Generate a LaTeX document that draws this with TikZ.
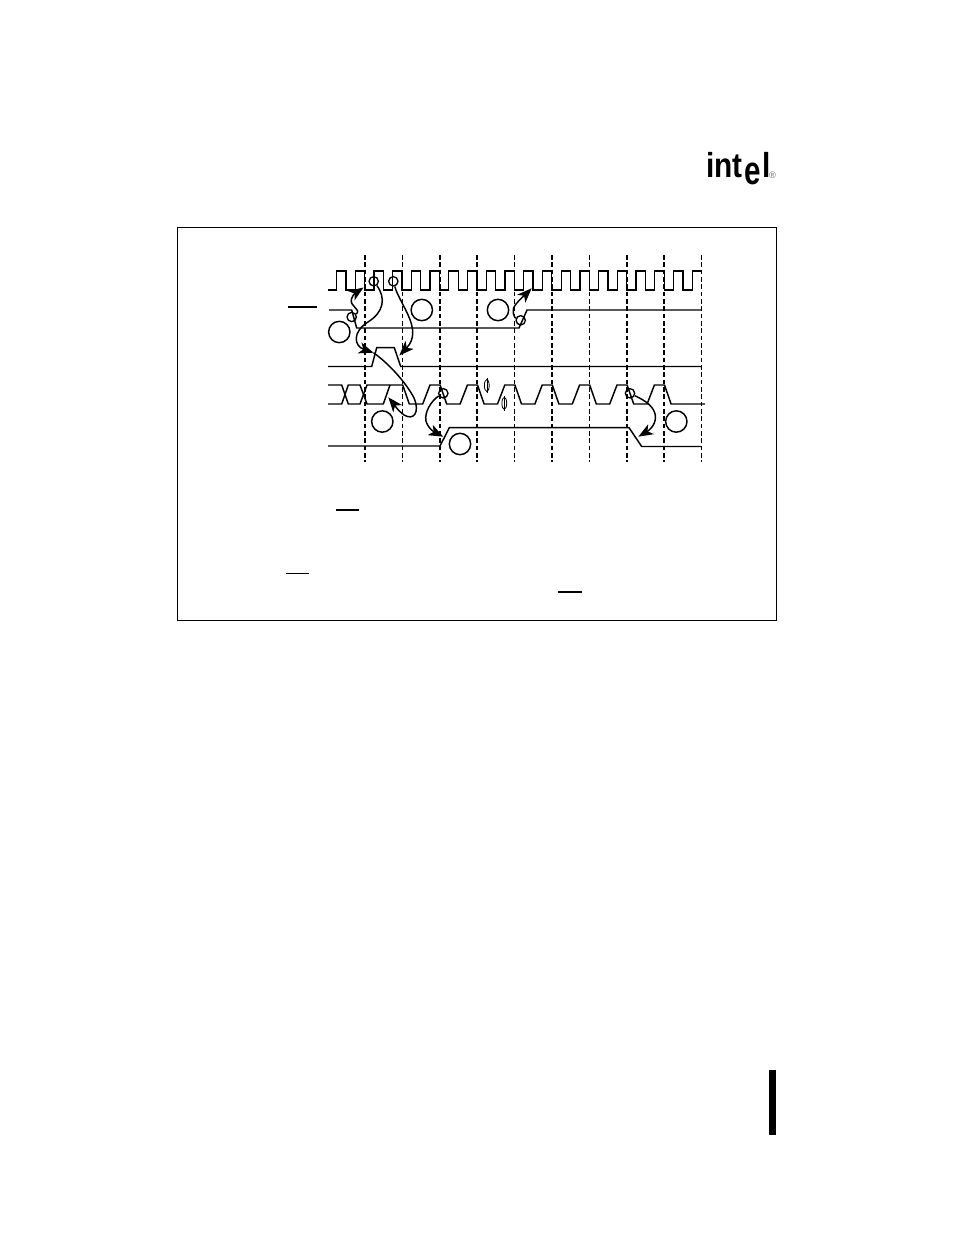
\documentclass[tikz,border=0pt]{standalone}
\usepackage{fontspec}
\setmainfont{Liberation Sans}
\usepackage{tikz}
\usetikzlibrary{positioning,arrows.meta,calc,shapes.geometric}
\definecolor{regGray}{RGB}{110,110,110}
\tikzset{
  sigline/.style={line width=1.1pt, line join=miter},
  clockline/.style={line width=0.95pt, line join=miter},
  thickdash/.style={line width=1.8pt, dash pattern=on 3.6pt off 1.9pt},
  thindash/.style={line width=0.8pt, dash pattern=on 3.6pt off 1.9pt},
  bigring/.style={circle, draw, line width=1.1pt, minimum size=16pt, inner sep=0pt},
  smallring/.style={circle, draw, line width=1pt, minimum size=7pt, inner sep=0pt},
  timearrow/.style={line width=1.1pt, -{Stealth[length=11pt,width=8.5pt,inset=3pt]}},
  overbar/.style={line width=0.9pt},
  philip/.style={ellipse, draw, line width=0.6pt, minimum width=3.6pt, minimum height=9pt, inner sep=0pt},
  logotext/.style={font=\fontsize{26}{26}\selectfont\bfseries, inner sep=0pt, anchor=base west}
}
\begin{document}
\begin{tikzpicture}[x=0.75pt,y=-0.75pt]
  \useasboundingbox (0,0) rectangle (954,1235);
  \fill[white] (0,0) rectangle (954,1235);

  % Logo
  \node[logotext, xscale=0.86] (logoint) at (706,177) {int};
  \node[logotext, font=\fontsize{30}{30}\selectfont\bfseries, xscale=0.74] (logoe) at (744.5,184.5) {e};
  \node[logotext, xscale=0.86] (logol) at (762.5,177) {l};
  \node[font=\fontsize{7}{7}\selectfont, inner sep=0pt, text=regGray] (logoreg) at (772.5,175) {®};

  % Frame and margin bar
  \draw[line width=0.9pt] (177.5,227.5) rectangle (776.5,620.5);
  \fill (768.5,1070) rectangle (775.5,1135);

  % Time grid
  \foreach \x in {365,440,477,552,627,664}
    \draw[thickdash] (\x,255) -- (\x,462);
  \foreach \x in {402.5,514.5,589.5,701.5}
    \draw[thindash] (\x,255) -- (\x,462);

  % Clock
  \draw[clockline] (328,290)
    \foreach \k in {0,...,18} { -- ({336.5+18.72*\k},290) -- ++(0,-19) -- ++(9.4,0) -- ++(0,19) }
    -- (692.2,290) -- (692.2,271) -- (701,271);

  % Strobe
  \draw[sigline] (329,310) -- (351.7,310) -- (356.7,328) -- (519,328) -- (527,310) -- (701,310);
  \draw[overbar] (288.3,307) -- (316.7,307);

  % Pulse
  \draw[sigline] (328,366.5) -- (371.7,366.5) -- (376.7,347.7) -- (394.3,347.7) -- (400.7,366.5) -- (701,366.5);

  % Bus
  \draw[sigline] (328,404) -- (341.7,404) -- (348.3,385) -- (360,385) -- (367,404) -- (383.3,404) -- (390,385);
  \draw[sigline] (328,385) -- (341.7,385) -- (348.3,404) -- (360,404) -- (367,385) -- (402.7,385)
    \foreach \k in {0,...,6} { -- ++(6.6,19) -- ++(13.4,0) -- ++(7.3,-19) -- ++(10.1,0) }
    -- ++(6.6,19) -- (705,404);

  % Output
  \draw[sigline] (328,446) -- (440,446) -- (449.3,427.7) -- (629,427.7) -- (641.7,446.5) -- (701,446.5);

  % Phase marks
  \node[philip] (phione) at (486.8,385.5) {};
  \draw (486.8,378) -- (486.8,393);
  \node[philip] (phitwo) at (504.3,403.3) {};
  \draw (504.3,396) -- (504.3,411);

  % Numbered rings
  \node[bigring] (ringa) at (339.3,332) {};
  \node[bigring] (ringb) at (421.8,310) {};
  \node[bigring] (ringc) at (498,310) {};
  \node[bigring] (ringd) at (382.3,421.5) {};
  \node[bigring] (ringe) at (460,444) {};
  \node[bigring] (ringf) at (676.3,421.5) {};

  % Event marks
  \node[smallring] (evclka) at (373.7,281.3) {};
  \node[smallring] (evclkb) at (393.3,281.3) {};
  \node[smallring] (evstra) at (351.7,317) {};
  \node[smallring] (evstrb) at (520.7,320.3) {};
  \node[smallring] (evbusa) at (443.3,393.3) {};
  \node[smallring] (evbusb) at (630,393.3) {};

  % Arrow ends
  \coordinate (tipclka) at (363.5,287.5);
  \coordinate (tipclkb) at (531.7,288.3);
  \coordinate (tiprise) at (373.5,352.7);
  \coordinate (tipfall) at (399.3,355.5);
  \coordinate (tipbus) at (388.3,397.3);
  \coordinate (tipouta) at (443.3,436.7);
  \coordinate (tipoutb) at (638.3,436.7);
  \coordinate (busloop) at (404,415);

  % Causal arrows
  \draw[timearrow] (evstra) .. controls (362,310) and (349,306) .. (351.5,299) .. controls (353,295) and (354,294) .. (tipclka);
  \draw[timearrow] (evclka) .. controls (386,298) and (384,312) .. (368,322) .. controls (352,332) and (354,346) .. (tiprise);
  \draw[timearrow] (evclkb) .. controls (400,305) and (424,330) .. (tipfall);
  \draw[line width=1.1pt] (tiprise) .. controls (392,366) and (408,386) .. (414,398) .. controls (420,412) and (414,421) .. (busloop);
  \draw[timearrow] (busloop) .. controls (398,411) and (393,403) .. (tipbus);
  \draw[timearrow] (evbusa) .. controls (432,400) and (424,412) .. (426,421) .. controls (428,429) and (436,433) .. (tipouta);
  \draw[timearrow] (evstrb) .. controls (515,318) and (510,311) .. (516,304) .. controls (520,299) and (526,294) .. (tipclkb);
  \draw[timearrow] (evbusb) .. controls (646,401) and (655,407) .. (655.5,417) .. controls (655.5,426) and (648,431) .. (tipoutb);

  % Note bars
  \draw[overbar] (336,510) -- (359,510);
  \draw[overbar] (286,573.5) -- (309,573.5);
  \draw[overbar] (558,592) -- (582,592);
\end{tikzpicture}
\end{document}
